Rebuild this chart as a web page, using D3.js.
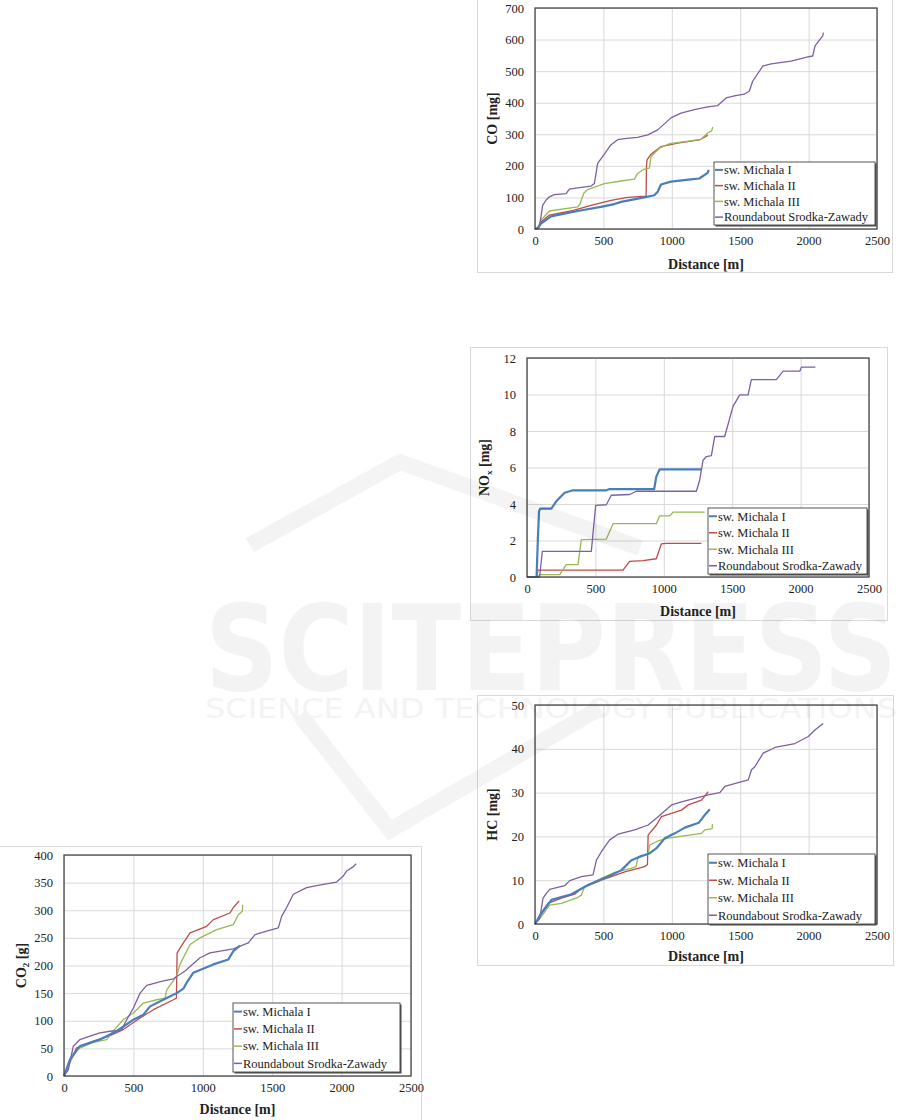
<!DOCTYPE html>
<html><head><meta charset="utf-8">
<script src="https://cdn.jsdelivr.net/npm/d3@7"></script>
<style>
body{margin:0;background:#fff;}
svg{display:block;font-family:"Liberation Serif","Times New Roman",serif;}
svg text{font-family:"Liberation Serif","Times New Roman",serif;}
svg text.wm{font-family:"DejaVu Sans",sans-serif;}
</style></head><body>
<svg id="c" width="901" height="1120"></svg>
<script>
// ---------- data ----------
const seriesNames = ["sw. Michala I","sw. Michala II","sw. Michala III","Roundabout Srodka-Zawady"];
const seriesColors = ["#4A7EBB","#BE4B48","#98B954","#7D60A0"];
const xTicks = [0,500,1000,1500,2000,2500];

// CO [mg]
const coTicks = [0,100,200,300,400,500,600,700];
const coMichala1 = [[0,0],[20,3],[44,17],[117,40],[312,57],[482,70],[580,79],[629,86],[799,100],[872,107],[897,118],[921,141],[994,150],[1140,157],[1201,160],[1262,178],[1270,187]];
const coMichala2 = [[0,0],[20,3],[44,22],[105,44],[263,57],[409,75],[556,91],[677,100],[812,104],[815,200],[819,219],[848,237],[921,261],[1043,272],[1201,282],[1250,293],[1262,298]];
const coMichala3 = [[0,0],[20,4],[44,28],[105,57],[312,70],[330,80],[356,113],[385,125],[507,144],[629,152],[726,158],[750,176],[799,190],[836,193],[848,229],[909,256],[982,270],[1092,277],[1213,284],[1262,304],[1291,311],[1299,323]];
const coRoundabout = [[0,0],[32,6],[56,75],[80,91],[105,102],[141,109],[227,112],[251,126],[312,130],[410,136],[434,144],[458,208],[495,230],[556,267],[604,283],[653,286],[750,290],[824,298],[897,314],[994,352],[1067,367],[1165,378],[1262,387],[1336,391],[1397,415],[1457,422],[1530,427],[1567,437],[1591,468],[1665,516],[1726,523],[1872,532],[1994,545],[2030,548],[2047,580],[2103,612],[2108,622]];

// NOx [mg]
const noxTicks = [0,2,4,6,8,10,12];
const noxMichala1 = [[0,0],[70,0],[80,2.2],[88,3.6],[97,3.75],[178,3.75],[214,4.15],[275,4.62],[336,4.75],[580,4.75],[604,4.82],[930,4.82],[945,5.5],[970,5.9],[1275,5.9]];
const noxMichala2 = [[0,0],[70,0],[80,0.38],[702,0.38],[750,0.86],[848,0.9],[945,1.0],[982,1.81],[1019,1.84],[1275,1.84]];
const noxMichala3 = [[0,0],[80,0],[92,0.13],[239,0.13],[287,0.68],[373,0.68],[397,2.05],[580,2.08],[629,2.92],[945,2.92],[970,3.35],[1043,3.35],[1067,3.55],[1299,3.55]];
const noxRoundabout = [[0,0],[92,0],[112,1.4],[470,1.4],[502,3.92],[580,3.96],[616,4.48],[750,4.52],[799,4.7],[1238,4.7],[1262,5.3],[1287,6.4],[1311,6.6],[1348,6.65],[1372,7.7],[1445,7.7],[1506,9.35],[1555,9.98],[1616,9.98],[1640,10.82],[1823,10.82],[1872,11.28],[1994,11.28],[2006,11.5],[2108,11.5]];

// HC [mg]
const hcTicks = [0,10,20,30,40,50];
const hcMichala1 = [[0,0],[46,2.4],[120,5.5],[266,6.8],[388,8.9],[559,11.2],[632,12.3],[702,14.5],[776,15.5],[837,16.1],[888,17.3],[949,19.6],[1022,20.7],[1095,22.0],[1197,23.1],[1241,24.9],[1278,26.2]];
const hcMichala2 = [[0,0],[34,2],[95,4.7],[193,5.9],[290,6.8],[339,8.1],[485,10.0],[656,11.9],[802,13.1],[822,13.6],[827,20.3],[888,22.6],[924,24.5],[1071,26.0],[1120,27.2],[1217,28.3],[1266,30.2]];
const hcMichala3 = [[0,0],[46,1.7],[107,4.3],[193,4.7],[315,6.1],[339,6.6],[363,8.5],[485,10.4],[583,11.8],[702,12.7],[739,13.1],[751,15.0],[827,16.1],[839,18.0],[900,19.0],[973,19.6],[1217,20.7],[1241,21.5],[1295,21.8],[1297,22.8]];
const hcRoundabout = [[0,0],[34,1.3],[59,5.9],[83,7.0],[107,7.9],[217,8.75],[254,9.9],[339,10.8],[424,11.2],[449,14.6],[485,16.5],[546,19.2],[607,20.5],[729,21.5],[827,22.6],[900,24.5],[1000,27.2],[1071,27.9],[1266,29.5],[1351,30.0],[1388,31.4],[1485,32.3],[1559,32.9],[1583,35.2],[1607,35.9],[1668,39.0],[1754,40.3],[1900,41.2],[1998,42.8],[2046,44.3],[2107,45.8]];

// CO2 [g]
const co2Ticks = [0,50,100,150,200,250,300,350,400];
const co2Michala1 = [[0,0],[43,30],[115,54],[259,66],[379,81],[500,102],[572,111],[620,126],[740,141],[812,150],[860,158],[884,169],[932,187],[1076,202],[1184,211],[1220,226],[1268,236]];
const co2Michala2 = [[0,0],[43,27],[91,51],[211,63],[331,73],[427,84],[548,105],[644,120],[788,138],[810,141],[815,223],[860,241],[908,259],[1028,271],[1076,283],[1196,295],[1220,305],[1262,317]];
const co2Michala3 = [[0,0],[43,24],[91,48],[211,61],[307,66],[343,78],[427,102],[500,114],[572,132],[668,138],[728,141],[740,156],[812,181],[836,202],[908,238],[980,250],[1100,265],[1220,274],[1256,292],[1285,298],[1287,310]];
const co2Roundabout = [[0,0],[31,11],[67,54],[115,66],[187,72],[259,78],[331,81],[415,83],[439,96],[500,123],[548,150],[596,164],[716,172],[788,176],[872,190],[980,214],[1052,223],[1220,230],[1328,241],[1376,256],[1460,262],[1544,268],[1568,289],[1604,305],[1652,329],[1748,341],[1868,347],[1964,351],[2012,362],[2036,371],[2080,378],[2105,384]];

// ---------- drawing ----------
const svg = d3.select("#c");
const FONT = "Liberation Serif";

function drawChart(cfg){
  const g = svg.append("g");
  g.append("rect").attr("x",cfg.frame[0]+0.5).attr("y",cfg.frame[1]+0.5)
    .attr("width",cfg.frame[2]-cfg.frame[0]).attr("height",cfg.frame[3]-cfg.frame[1])
    .attr("fill","#fff").attr("stroke","#d9d9d9");
  const [L,T,R,B] = cfg.plot;
  const x = d3.scaleLinear().domain([0,2500]).range([L,R]);
  const y = d3.scaleLinear().domain([0,cfg.ymax]).range([B,T]);
  const fmt = d3.format("d");
  // gridlines
  const gx = g.append("g").attr("transform",`translate(0,${B})`)
    .call(d3.axisBottom(x).tickValues(xTicks).tickSize(-(B-T)).tickFormat(""));
  gx.select(".domain").remove();
  gx.selectAll("line").attr("stroke","#d9d9d9");
  const gy = g.append("g").attr("transform",`translate(${L},0)`)
    .call(d3.axisLeft(y).tickValues(cfg.yTicks).tickSize(-(R-L)).tickFormat(""));
  gy.select(".domain").remove();
  gy.selectAll("line").attr("stroke","#d9d9d9");
  // tick labels
  const ax = g.append("g").attr("transform",`translate(0,${B})`)
    .call(d3.axisBottom(x).tickValues(xTicks).tickSize(0).tickPadding(7).tickFormat(fmt))
    .attr("font-family",FONT).attr("font-size",12.5);
  ax.select(".domain").remove();
  ax.selectAll("text").attr("fill","#222");
  const ay = g.append("g").attr("transform",`translate(${L},0)`)
    .call(d3.axisLeft(y).tickValues(cfg.yTicks).tickSize(0).tickPadding(11).tickFormat(fmt))
    .attr("font-family",FONT).attr("font-size",12.5);
  ay.select(".domain").remove();
  ay.selectAll("text").attr("fill","#222");
  // lines
  const line = d3.line().x(d=>x(d[0])).y(d=>y(d[1]));
  [1,2,3,0].forEach(i=>{
    g.append("path").datum(cfg.series[i]).attr("d",line)
      .attr("fill","none").attr("stroke",seriesColors[i])
      .attr("stroke-width", i===0 ? 2.2 : 1.3).attr("stroke-linejoin","round");
  });
  g.append("rect").attr("x",L).attr("y",T).attr("width",R-L).attr("height",B-T)
    .attr("fill","none").attr("stroke","#3a3a3a").attr("stroke-width",1.2);
  // axis titles
  g.append("text").attr("x",(L+R)/2).attr("y",cfg.xTitleY).attr("text-anchor","middle")
    .attr("font-family",FONT).attr("font-weight","bold").attr("font-size",14).attr("fill","#222").text("Distance [m]");
  const yt = g.append("text").attr("transform",`translate(${cfg.yTitleX},${(T+B)/2}) rotate(-90)`)
    .attr("text-anchor","middle").attr("font-family",FONT).attr("font-weight","bold").attr("font-size",14).attr("fill","#222");
  yt.append("tspan").text(cfg.yTitle[0]);
  if(cfg.yTitle[1]){
    yt.append("tspan").attr("font-size",9).attr("dy",3).text(cfg.yTitle[1]);
    yt.append("tspan").attr("dy",-3).text(cfg.yTitle[2]);
  }
  // legend
  const [lx,ly,lw,lh] = cfg.legend;
  g.append("rect").attr("x",lx+1.5).attr("y",ly+1.5).attr("width",lw).attr("height",lh).attr("fill","#444");
  g.append("rect").attr("x",lx).attr("y",ly).attr("width",lw).attr("height",lh)
    .attr("fill","#fff").attr("stroke","#555").attr("stroke-width",1);
  const rh = lh/4;
  seriesNames.forEach((n,i)=>{
    const cy = ly + rh*(i+0.5);
    g.append("line").attr("x1",lx+1).attr("x2",lx+9).attr("y1",cy).attr("y2",cy)
      .attr("stroke",seriesColors[i]).attr("stroke-width",i===0?2:1.5);
    g.append("text").attr("x",lx+10).attr("y",cy+4.3).attr("font-family",FONT)
      .attr("font-size",12.5).attr("fill","#222").text(n);
  });
}

drawChart({frame:[477,-2,892,272], plot:[535,8,877,229], ymax:700, yTicks:coTicks,
  series:[coMichala1,coMichala2,coMichala3,coRoundabout], xTitleY:269, yTitleX:497, yTitle:["CO [mg]"],
  legend:[714,162,161,63]});
drawChart({frame:[470,347,887,620], plot:[527,358,869,577], ymax:12, yTicks:noxTicks,
  series:[noxMichala1,noxMichala2,noxMichala3,noxRoundabout], xTitleY:616, yTitleX:489, yTitle:["NO","x"," [mg]"],
  legend:[708,508,159,66]});
drawChart({frame:[477,695,893,965], plot:[535,705,877,924], ymax:50, yTicks:hcTicks,
  series:[hcMichala1,hcMichala2,hcMichala3,hcRoundabout], xTitleY:961, yTitleX:497, yTitle:["HC [mg]"],
  legend:[708,854,167,70]});
drawChart({frame:[-2,846,421,1125], plot:[64,855,411,1076], ymax:400, yTicks:co2Ticks,
  series:[co2Michala1,co2Michala2,co2Michala3,co2Roundabout], xTitleY:1114, yTitleX:26, yTitle:["CO","2"," [g]"],
  legend:[233,1003,167,69]});

// faint watermark
const wm = svg.append("g").attr("opacity",0.045).attr("pointer-events","none");
wm.append("path").attr("d","M250,545 L400,462 L640,548").attr("fill","none").attr("stroke","#000").attr("stroke-width",16);
wm.append("path").attr("d","M300,715 L390,830 L600,708").attr("fill","none").attr("stroke","#000").attr("stroke-width",16);
wm.append("text").attr("class","wm").attr("x",205).attr("y",690).attr("font-weight","bold")
  .attr("font-size",120).attr("textLength",692).attr("lengthAdjust","spacingAndGlyphs").attr("fill","#000").text("SCITEPRESS");
wm.append("text").attr("class","wm").attr("x",205).attr("y",718)
  .attr("font-size",26).attr("textLength",692).attr("lengthAdjust","spacingAndGlyphs").attr("fill","#000").text("SCIENCE AND TECHNOLOGY PUBLICATIONS");
</script>
</body></html>
